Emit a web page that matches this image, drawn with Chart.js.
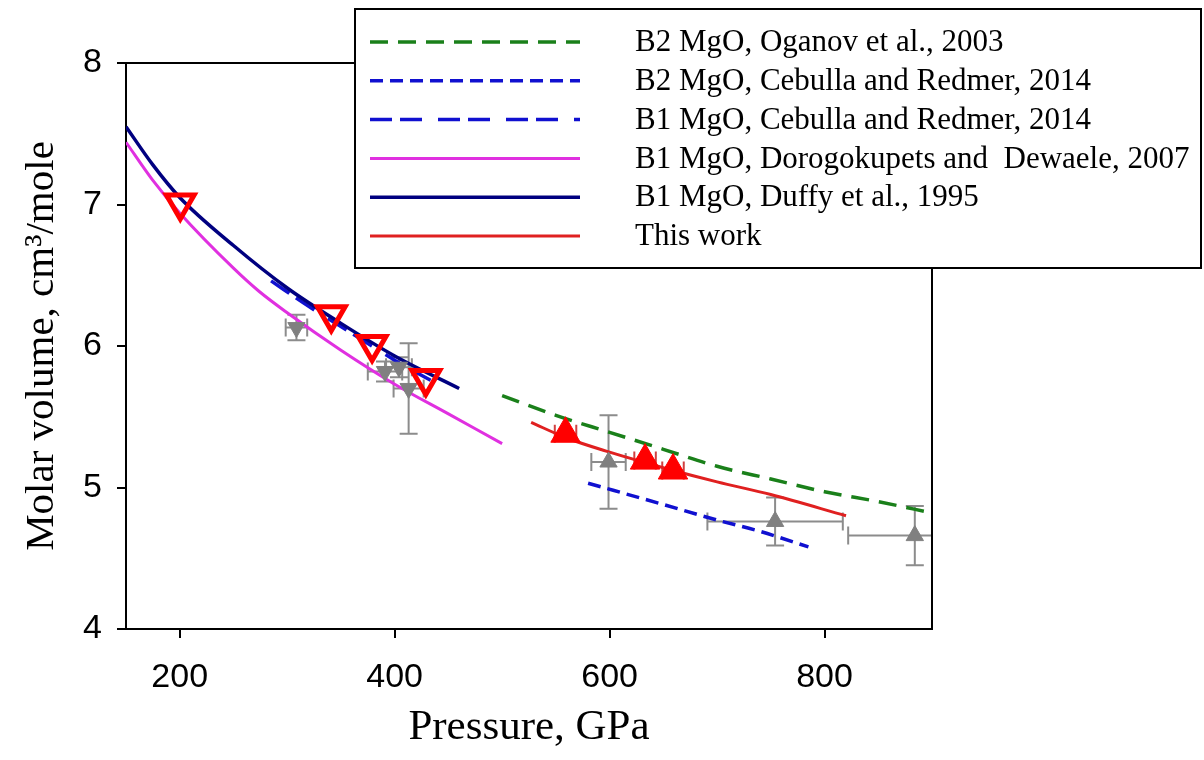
<!DOCTYPE html>
<html>
<head>
<meta charset="utf-8">
<title>MgO molar volume vs pressure</title>
<script src="https://cdn.jsdelivr.net/npm/chart.js@4.4.0/dist/chart.umd.min.js"></script>
<style>
  html, body { margin: 0; padding: 0; background: #fff; }
  #wrap { width: 1204px; height: 760px; }
</style>
</head>
<body>
<div id="wrap"><canvas id="mgoChart"></canvas></div>
<script>
// axis ticks
var xTicks = [200, 400, 600, 800];
var yTicks = [4, 5, 6, 7, 8];

// EOS curves: pressure (GPa) and molar volume (cm3/mole)
var oganovP = [500, 550, 600, 650, 700, 750, 800, 850, 900];
var oganovV = [5.65, 5.51, 5.39, 5.27, 5.15, 5.06, 4.97, 4.90, 4.82];

var cebullaB2P = [580, 650, 700, 740, 785];
var cebullaB2V = [5.03, 4.88, 4.77, 4.69, 4.58];

var cebullaB1P = [285, 320, 360, 400, 445];
var cebullaB1V = [6.46, 6.28, 6.09, 5.90, 5.71];

var dorogP = [150, 175, 200, 250, 274, 300, 350, 400, 450, 500];
var dorogV = [7.44, 7.17, 6.94, 6.55, 6.385, 6.235, 5.97, 5.73, 5.52, 5.31];

var duffyP = [150, 175, 200, 250, 300, 350, 400, 460];
var duffyV = [7.55, 7.28, 7.05, 6.71, 6.41, 6.16, 5.93, 5.70];

var thisWorkP = [527, 560, 600, 650, 700, 750, 820];
var thisWorkV = [5.46, 5.35, 5.25, 5.14, 5.04, 4.95, 4.80];

// this work, points
var b1PointsP = [200.5, 341, 379, 429];
var b1PointsV = [7.01, 6.22, 6.01, 5.77];

var b2PointsP = [559, 633, 659];
var b2PointsV = [5.38, 5.19, 5.12];
var b2PointsErrP = [10, 10, 10];

// experimental points with error bars
var b1ExpP = [308.6, 391, 404, 413];
var b1ExpV = [6.13, 5.82, 5.85, 5.70];
var b1ExpErrP = [10, 16, 12, 14];
var b1ExpErrV = [0.09, 0.07, 0.07, 0.32];

var b2ExpP = [599, 754, 884];
var b2ExpV = [5.18, 4.76, 4.66];
var b2ExpErrP = [16, 63, 62];
var b2ExpErrV = [0.33, 0.17, 0.21];

function pts(xs, ys) {
    return xs.map(function(x, i) { return {x: x, y: ys[i]}; });
}

function curve(label, xs, ys, color, width, dash, row) {
    return {
        label: label,
        data: pts(xs, ys),
        showLine: true,
        borderColor: color,
        backgroundColor: color,
        borderWidth: width,
        borderDash: dash,
        pointRadius: 0,
        cubicInterpolationMode: 'monotone',
        legendRow: row
    };
}

// error bars drawn under the markers, clipped to the plot area
var errorBarPlugin = {
    id: 'errorBars',
    beforeDatasetsDraw: function(chart) {
        var ctx = chart.ctx;
        var area = chart.chartArea;
        var xs = chart.scales.x, ys = chart.scales.y;
        ctx.save();
        ctx.beginPath();
        ctx.rect(area.left, area.top, area.right - area.left, area.bottom - area.top);
        ctx.clip();
        chart.data.datasets.forEach(function(ds) {
            if (!ds.errX && !ds.errY) return;
            ctx.strokeStyle = ds.errColor;
            ctx.lineWidth = 2;
            ds.data.forEach(function(p, i) {
                var px = xs.getPixelForValue(p.x);
                var py = ys.getPixelForValue(p.y);
                var cap = 9;
                ctx.beginPath();
                if (ds.errX) {
                    var x1 = xs.getPixelForValue(p.x - ds.errX[i]);
                    var x2 = xs.getPixelForValue(p.x + ds.errX[i]);
                    ctx.moveTo(x1, py); ctx.lineTo(x2, py);
                    ctx.moveTo(x1, py - cap); ctx.lineTo(x1, py + cap);
                    ctx.moveTo(x2, py - cap); ctx.lineTo(x2, py + cap);
                }
                if (ds.errY) {
                    var y1 = ys.getPixelForValue(p.y - ds.errY[i]);
                    var y2 = ys.getPixelForValue(p.y + ds.errY[i]);
                    ctx.moveTo(px, y1); ctx.lineTo(px, y2);
                    ctx.moveTo(px - cap, y1); ctx.lineTo(px + cap, y1);
                    ctx.moveTo(px - cap, y2); ctx.lineTo(px + cap, y2);
                }
                ctx.stroke();
            });
        });
        ctx.restore();
    }
};

// top/right frame and the boxed legend
var boxLegendPlugin = {
    id: 'boxLegend',
    afterDraw: function(chart) {
        var ctx = chart.ctx;
        var area = chart.chartArea;
        ctx.save();
        ctx.strokeStyle = '#000';
        ctx.lineWidth = 2;
        ctx.beginPath();
        ctx.moveTo(area.left, area.top);
        ctx.lineTo(area.right, area.top);
        ctx.lineTo(area.right, area.bottom);
        ctx.stroke();

        var bx = 355, by = 9, bw = 846, bh = 259;
        ctx.fillStyle = '#fff';
        ctx.fillRect(bx, by, bw, bh);
        ctx.strokeRect(bx, by, bw, bh);

        var rows = chart.data.datasets.filter(function(d) { return d.legendRow !== undefined; });
        rows.sort(function(a, b) { return a.legendRow - b.legendRow; });
        ctx.font = '31px "Liberation Serif"';
        ctx.textBaseline = 'middle';
        ctx.textAlign = 'left';
        rows.forEach(function(ds) {
            var y = 42 + ds.legendRow * 38.8;
            ctx.strokeStyle = ds.borderColor;
            ctx.lineWidth = ds.borderWidth;
            ctx.setLineDash(ds.borderDash || []);
            ctx.beginPath();
            ctx.moveTo(370, y);
            ctx.lineTo(580, y);
            ctx.stroke();
            ctx.setLineDash([]);
            ctx.fillStyle = '#000';
            ctx.fillText(ds.label, 635, y + 1);
        });
        ctx.restore();
    }
};

var ctx = document.getElementById('mgoChart').getContext('2d');
var mgoChart = new Chart(ctx, {
    type: 'scatter',
    data: {
        datasets: [
            {
                label: 'B1 this work',
                data: pts(b1PointsP, b1PointsV),
                pointStyle: 'triangle',
                rotation: 180,
                pointRadius: 16,
                borderWidth: 5,
                borderColor: '#ff0000',
                backgroundColor: 'rgba(0,0,0,0)'
            },
            {
                label: 'B2 this work',
                data: pts(b2PointsP, b2PointsV),
                pointStyle: 'triangle',
                pointRadius: 17,
                borderWidth: 1,
                borderColor: '#ff0000',
                backgroundColor: '#ff0000',
                errX: b2PointsErrP,
                errColor: '#d04040'
            },
            {
                label: 'B1 experiment',
                data: pts(b1ExpP, b1ExpV),
                pointStyle: 'triangle',
                rotation: 180,
                pointRadius: 10,
                borderWidth: 1,
                borderColor: '#808080',
                backgroundColor: '#808080',
                errX: b1ExpErrP,
                errY: b1ExpErrV,
                errColor: '#8c8c8c'
            },
            {
                label: 'B2 experiment',
                data: pts(b2ExpP, b2ExpV),
                pointStyle: 'triangle',
                pointRadius: 10,
                borderWidth: 1,
                borderColor: '#808080',
                backgroundColor: '#808080',
                errX: b2ExpErrP,
                errY: b2ExpErrV,
                errColor: '#8c8c8c'
            },
            curve('This work', thisWorkP, thisWorkV, '#e02020', 3, [], 5),
            curve('B1 MgO, Duffy et al., 1995', duffyP, duffyV, '#000080', 3.5, [], 4),
            curve('B1 MgO, Cebulla and Redmer, 2014', cebullaB1P, cebullaB1V, '#1010d0', 3.5, [22, 8, 22, 16], 2),
            curve('B1 MgO, Dorogokupets and  Dewaele, 2007', dorogP, dorogV, '#e030e0', 3, [], 3),
            curve('B2 MgO, Cebulla and Redmer, 2014', cebullaB2P, cebullaB2V, '#1010d0', 3.5, [13, 7], 1),
            curve('B2 MgO, Oganov et al., 2003', oganovP, oganovV, '#1a801a', 3.5, [18, 10], 0)
        ]
    },
    options: {
        responsive: true,
        maintainAspectRatio: false,
        animation: false,
        layout: { padding: { left: 0, right: 272, top: 63, bottom: 0 } },
        plugins: {
            legend: { display: false },
            tooltip: { enabled: false }
        },
        scales: {
            x: {
                type: 'linear',
                min: 150,
                max: 900,
                afterBuildTicks: function(scale) {
                    scale.ticks = xTicks.map(function(v) { return {value: v}; });
                },
                afterFit: function(scale) { scale.height = 131; },
                grid: { display: true, drawOnChartArea: false, drawTicks: true, tickLength: 9, color: '#000', lineWidth: 2 },
                border: { display: true, color: '#000', width: 2 },
                ticks: { color: '#000', font: { family: 'Liberation Sans', size: 34 }, padding: 19, maxRotation: 0 },
                title: {
                    display: true,
                    text: 'Pressure, GPa',
                    color: '#000',
                    font: { family: 'Liberation Serif', size: 43 },
                    padding: { top: 0, bottom: 6 }
                }
            },
            y: {
                type: 'linear',
                min: 4,
                max: 8,
                afterBuildTicks: function(scale) {
                    scale.ticks = yTicks.map(function(v) { return {value: v}; });
                },
                afterFit: function(scale) { scale.width = 126; },
                grid: { display: true, drawOnChartArea: false, drawTicks: true, tickLength: 9, color: '#000', lineWidth: 2 },
                border: { display: true, color: '#000', width: 2 },
                ticks: { color: '#000', font: { family: 'Liberation Sans', size: 34 }, padding: 15 },
                title: {
                    display: true,
                    text: 'Molar volume, cm\u00B3/mole',
                    color: '#000',
                    font: { family: 'Liberation Serif', size: 41 },
                    padding: { top: 18, bottom: 0 }
                }
            }
        }
    },
    plugins: [errorBarPlugin, boxLegendPlugin]
});
</script>
</body>
</html>
